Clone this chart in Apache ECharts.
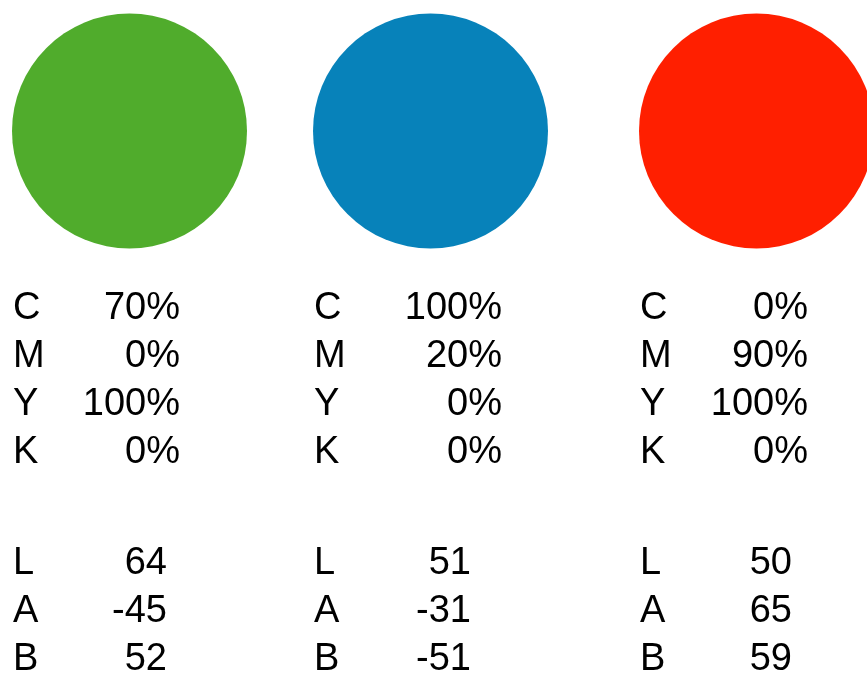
<!DOCTYPE html>
<html>
<head>
<meta charset="utf-8">
<script src="https://cdn.jsdelivr.net/npm/echarts@6/dist/echarts.min.js"></script>
<style>
	html, body { margin: 0; padding: 0; background: #fff; }
	#chart { width: 867px; height: 673px; }
</style>
</head>
<body>
<div id="chart"></div>
<script>
// swatch data
const swatchColors = ["#50AC2C", "#0782BA", "#FF1F00"];
const cmykLetters = ["C", "M", "Y", "K"];
const labLetters = ["L", "A", "B"];
const cmykValues = [
	["70%", "0%", "100%", "0%"],
	["100%", "20%", "0%", "0%"],
	["0%", "90%", "100%", "0%"],
];
const labValues = [
	["64", "-45", "52"],
	["51", "-31", "-51"],
	["50", "65", "59"],
];

// layout (pixels)
const colLeft = [12, 313, 639]; //每列左边缘
const circleSize = 235;
const circleCenterY = 131;
const cmykRight = [180, 502, 808]; //CMYK数值右对齐位置
const labRight = [167, 471, 792]; //LAB数值右对齐位置
const cmykTop = 309; //第一行中心
const labTop = 564;
const rowGap = 48;
const fontSize = 38;

const chart = echarts.init(document.getElementById("chart"));

const circleData = swatchColors.map((c, i) => ({
	value: [colLeft[i] + circleSize / 2, circleCenterY],
	itemStyle: { color: c, opacity: 1 },
}));

const texts = [];
const textStyle = (x, y, text, align) => ({
	type: "text",
	x: x,
	y: y,
	style: {
		text: text,
		fontSize: fontSize,
		fontFamily: "Liberation Sans, Arial, sans-serif",
		fill: "#000",
		align: align,
		verticalAlign: "middle",
	},
});
colLeft.forEach((left, i) => {
	cmykLetters.forEach((letter, r) => {
		const y = cmykTop + r * rowGap;
		texts.push(textStyle(left + 1, y, letter, "left"));
		texts.push(textStyle(cmykRight[i], y, cmykValues[i][r], "right"));
	});
	labLetters.forEach((letter, r) => {
		const y = labTop + r * rowGap;
		texts.push(textStyle(left + 1, y, letter, "left"));
		texts.push(textStyle(labRight[i], y, labValues[i][r], "right"));
	});
});

chart.setOption({
	animation: false,
	grid: { left: 0, right: 0, top: 0, bottom: 0 },
	xAxis: { type: "value", min: 0, max: 867, show: false },
	yAxis: { type: "value", min: 0, max: 673, inverse: true, show: false },
	series: [
		{
			type: "scatter",
			symbol: "circle",
			symbolSize: circleSize,
			data: circleData,
			clip: true,
			silent: true,
			emphasis: { disabled: true },
		},
	],
	graphic: texts,
});
</script>
</body>
</html>
